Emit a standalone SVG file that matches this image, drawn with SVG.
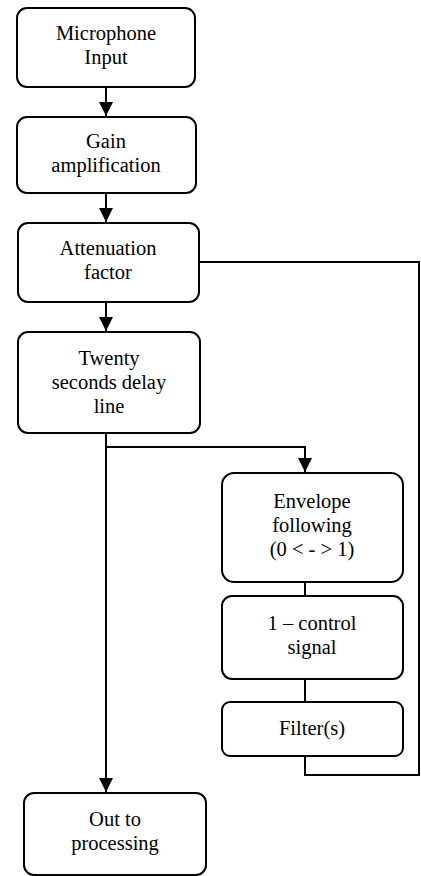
<svg xmlns="http://www.w3.org/2000/svg" width="421" height="876" viewBox="0 0 421 876">
<defs>
<style>
.box{fill:#fff;stroke:#000;stroke-width:2}
.t{font-family:"Liberation Serif","Times New Roman",Times,serif;font-size:20.5px;fill:#000;text-anchor:middle}
.c{fill:none;stroke:#000;stroke-width:2}
</style>
<marker id="ah" markerUnits="userSpaceOnUse" markerWidth="14" markerHeight="16" refX="14" refY="7" orient="auto" viewBox="0 0 14 14">
<path d="M0,0 L14,7 L0,14 Z" fill="#000"/>
</marker>
</defs>
<rect width="421" height="876" fill="#fff"/>
<g id="connectors">
<path class="c" d="M106,87 V116" marker-end="url(#ah)"/>
<path class="c" d="M106,193 V222" marker-end="url(#ah)"/>
<path class="c" d="M106,302 V331" marker-end="url(#ah)"/>
<path class="c" d="M106,433 V792" marker-end="url(#ah)"/>
<path class="c" d="M106,447 H305 V472" marker-end="url(#ah)"/>
<path class="c" d="M305,582 V596"/>
<path class="c" d="M305,679 V702"/>
<path class="c" d="M305,756 V775 H419 V262 H199"/>
</g>
<g id="n1"><rect class="box" x="17" y="8" width="178" height="79" rx="10"/><text class="t" x="106" y="40">Microphone</text><text class="t" x="106" y="64">Input</text></g>
<g id="n2"><rect class="box" x="17" y="117" width="179" height="76" rx="10"/><text class="t" x="106" y="148">Gain</text><text class="t" x="106" y="172">amplification</text></g>
<g id="n3"><rect class="box" x="18" y="223" width="181" height="79" rx="10"/><text class="t" x="108" y="255">Attenuation</text><text class="t" x="108" y="279">factor</text></g>
<g id="n4"><rect class="box" x="18" y="332" width="182" height="101" rx="10"/><text class="t" x="109" y="365">Twenty</text><text class="t" x="109" y="389">seconds delay</text><text class="t" x="109" y="413">line</text></g>
<g id="n5"><rect class="box" x="222" y="473" width="181" height="109" rx="12"/><text class="t" x="312" y="508">Envelope</text><text class="t" x="312" y="532">following</text><text class="t" x="312" y="556">(0 &lt; - &gt; 1)</text></g>
<g id="n6"><rect class="box" x="222" y="596" width="181" height="83" rx="10"/><text class="t" x="312" y="630">1 – control</text><text class="t" x="312" y="654">signal</text></g>
<g id="n7"><rect class="box" x="222" y="702" width="181" height="54" rx="8"/><text class="t" x="312" y="735">Filter(s)</text></g>
<g id="n8"><rect class="box" x="24" y="793" width="182" height="82" rx="10"/><text class="t" x="115" y="826">Out to</text><text class="t" x="115" y="850">processing</text></g>
</svg>
